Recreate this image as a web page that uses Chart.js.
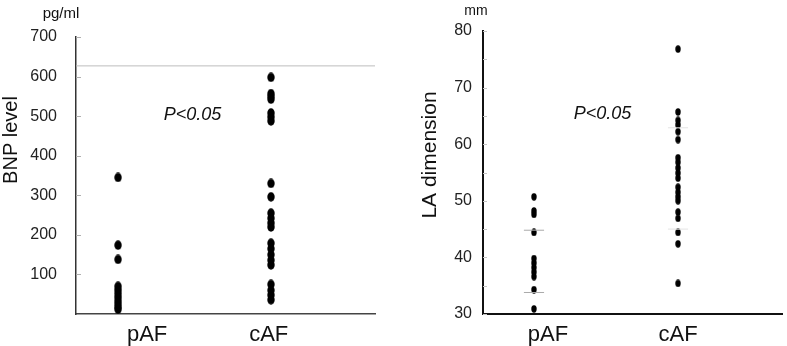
<!DOCTYPE html>
<html><head><meta charset="utf-8">
<script src="https://cdn.jsdelivr.net/npm/chart.js@4.4.0/dist/chart.umd.min.js"></script>
<style>
html,body{margin:0;padding:0;background:#fff;width:787px;height:346px;overflow:hidden}
#w1{position:absolute;left:0;top:0;width:400px;height:346px}
#w2{position:absolute;left:400px;top:0;width:387px;height:346px}
</style></head><body>
<div id="w1"><canvas id="c1"></canvas></div>
<div id="w2"><canvas id="c2"></canvas></div>
<script>
// ---------- data ----------
const groups = ['pAF', 'cAF'];
const bnpPAF = [345, 174, 138, 70, 61, 52, 43, 34, 26, 18, 12];
const bnpCAF = [598, 557, 550, 543, 508, 498, 488, 330, 296, 255, 242, 230, 220, 179, 165, 150, 136, 124, 75, 60, 48, 36];
const bnpRefLine = [627];
const bnpTicks = [100, 200, 300, 400, 500, 600, 700];
const laPAF = [50.7, 48.2, 47.6, 44.4, 39.8, 39.0, 38.2, 37.4, 36.6, 34.3, 30.9];
const laCAF = [76.8, 65.7, 64.2, 63.4, 62.2, 60.8, 57.6, 56.8, 55.8, 54.9, 54.0, 52.4, 51.5, 50.7, 50.0, 48.0, 46.9, 44.4, 42.4, 35.4];
const laSdPAF = [44.8, 33.8];
const laSdCAF = [62.9, 45.0];
const laTicks = [30, 40, 50, 60, 70, 80];
const pText = 'P<0.05';

Chart.defaults.font.family = "'Liberation Sans', Arial, Helvetica, sans-serif";
Chart.defaults.color = '#111';

function ellipseDot(w, h) {
  const c = document.createElement('canvas');
  c.width = w; c.height = h;
  const g = c.getContext('2d');
  g.fillStyle = '#000';
  g.beginPath();
  g.ellipse(w / 2, h / 2, w / 2 - 0.3, h / 2 - 0.3, 0, 0, Math.PI * 2);
  g.fill();
  return c;
}

function decoPlugin(items, tickLen, tickColor) {
  return {
    id: 'deco',
    beforeDatasetsDraw(chart) {
      const ctx = chart.ctx, ys = chart.scales.y, a = chart.chartArea;
      ctx.save();
      ctx.strokeStyle = tickColor; ctx.lineWidth = 1;
      ys.ticks.forEach(t => {
        const py = Math.round(ys.getPixelForValue(t.value)) + 0.5;
        ctx.beginPath(); ctx.moveTo(a.left, py); ctx.lineTo(a.left + tickLen, py); ctx.stroke();
      });
      ctx.restore();
    },
    afterDraw(chart) {
      const ctx = chart.ctx, xs = chart.scales.x, ys = chart.scales.y;
      items.forEach(it => {
        ctx.save();
        ctx.font = it.font; ctx.fillStyle = '#111';
        ctx.textAlign = 'center'; ctx.textBaseline = 'alphabetic';
        const px = it.px != null ? it.px : xs.getPixelForValue(it.x);
        const py = it.py != null ? it.py : ys.getPixelForValue(it.y);
        ctx.translate(px, py);
        if (it.rotate) ctx.rotate(it.rotate);
        ctx.fillText(it.text, 0, 0);
        ctx.restore();
      });
    }
  };
}

function pts(x, arr) { return arr.map(v => ({ x: x, y: v })); }

function makeChart(id, cfg) {
  return new Chart(document.getElementById(id), {
    type: 'scatter',
    data: { datasets: cfg.datasets },
    options: {
      responsive: true, maintainAspectRatio: false, animation: false,
      layout: { padding: cfg.padding },
      plugins: { legend: { display: false }, tooltip: { enabled: false } },
      scales: {
        x: {
          type: 'linear', min: cfg.xmin, max: cfg.xmax,
          grid: { display: false, drawTicks: false },
          border: { color: cfg.xBorder, width: cfg.borderW },
          afterBuildTicks: s => { s.ticks = cfg.labelPos.map(v => ({ value: v })); },
          afterFit: s => { s.height = 32; },
          ticks: {
            autoSkip: false, maxRotation: 0, padding: 8, color: '#111',
            font: { size: 22 },
            callback: (v, i) => groups[i]
          }
        },
        y: {
          min: cfg.ymin, max: cfg.ymax,
          grid: { display: false, drawTicks: false },
          border: { color: cfg.yBorder, width: cfg.borderW },
          afterFit: s => { s.width = cfg.yWidth; },
          afterBuildTicks: s => { s.ticks = cfg.tickVals.map(v => ({ value: v })); },
          ticks: {
            autoSkip: false, padding: cfg.tickPad, color: '#222',
            font: { size: 16 },
            callback: v => cfg.tickLabels.includes(v) ? String(v) : ''
          }
        }
      }
    },
    plugins: [decoPlugin(cfg.texts, cfg.tickLen, cfg.tickColor)]
  });
}

// ---------- left chart: BNP ----------
const dotL = ellipseDot(8, 10);
const lXmin = 0.725, lXmax = 2.68;
makeChart('c1', {
  padding: { top: 37, right: 25, left: 0, bottom: 0 },
  xmin: lXmin, xmax: lXmax, ymin: 0, ymax: 700,
  labelPos: [1.19, 1.985],
  tickVals: bnpTicks, tickLabels: bnpTicks,
  yWidth: 76, tickPad: 19, borderW: 1.5,
  xBorder: '#444', yBorder: '#333',
  tickLen: 5, tickColor: '#b0b0b0',
  datasets: [
    { data: bnpRefLine.flatMap(v => [{ x: lXmin, y: v }, { x: lXmax, y: v }]), showLine: true,
      borderColor: '#bdbdbd', borderWidth: 1, pointRadius: 0 },
    { data: pts(1, bnpPAF), pointStyle: dotL, pointRadius: 4, backgroundColor: '#000' },
    { data: pts(2, bnpCAF), pointStyle: dotL, pointRadius: 4, backgroundColor: '#000' }
  ],
  texts: [
    { text: 'pg/ml', font: '15px ' + Chart.defaults.font.family, px: 61, py: 18 },
    { text: 'BNP level', font: '20px ' + Chart.defaults.font.family, px: 17, py: 140, rotate: -Math.PI / 2 },
    { text: pText, font: 'italic 18px ' + Chart.defaults.font.family, x: 1.487, y: 489 }
  ]
});

// ---------- right chart: LA dimension ----------
const dotR = ellipseDot(6, 8);
const sdW = 0.07;
makeChart('c2', {
  padding: { top: 31, right: 5, left: 0, bottom: 0 },
  xmin: 0.646, xmax: 2.722, ymin: 30, ymax: 80,
  labelPos: [1.097, 2.0],
  tickVals: [30, 35, 40, 45, 50, 55, 60, 65, 70, 75, 80], tickLabels: laTicks,
  yWidth: 83, tickPad: 11, borderW: 2,
  xBorder: '#111', yBorder: '#111',
  tickLen: 4, tickColor: '#c4c4c4',
  datasets: [
    ...laSdPAF.map(v => ({ data: [{ x: 1 - sdW, y: v }, { x: 1 + sdW, y: v }], showLine: true,
      borderColor: '#aaa', borderWidth: 1, pointRadius: 0 })),
    ...laSdCAF.map(v => ({ data: [{ x: 2 - sdW, y: v }, { x: 2 + sdW, y: v }], showLine: true,
      borderColor: '#e4e4e4', borderWidth: 1, pointRadius: 0 })),
    { data: pts(1, laPAF), pointStyle: dotR, pointRadius: 3, backgroundColor: '#000' },
    { data: pts(2, laCAF), pointStyle: dotR, pointRadius: 3, backgroundColor: '#000' }
  ],
  texts: [
    { text: 'mm', font: '14px ' + Chart.defaults.font.family, px: 76, py: 15 },
    { text: 'LA dimension', font: '21px ' + Chart.defaults.font.family, px: 36, py: 155, rotate: -Math.PI / 2 },
    { text: pText, font: 'italic 18px ' + Chart.defaults.font.family, x: 1.476, y: 64.45 }
  ]
});
</script>
</body></html>
